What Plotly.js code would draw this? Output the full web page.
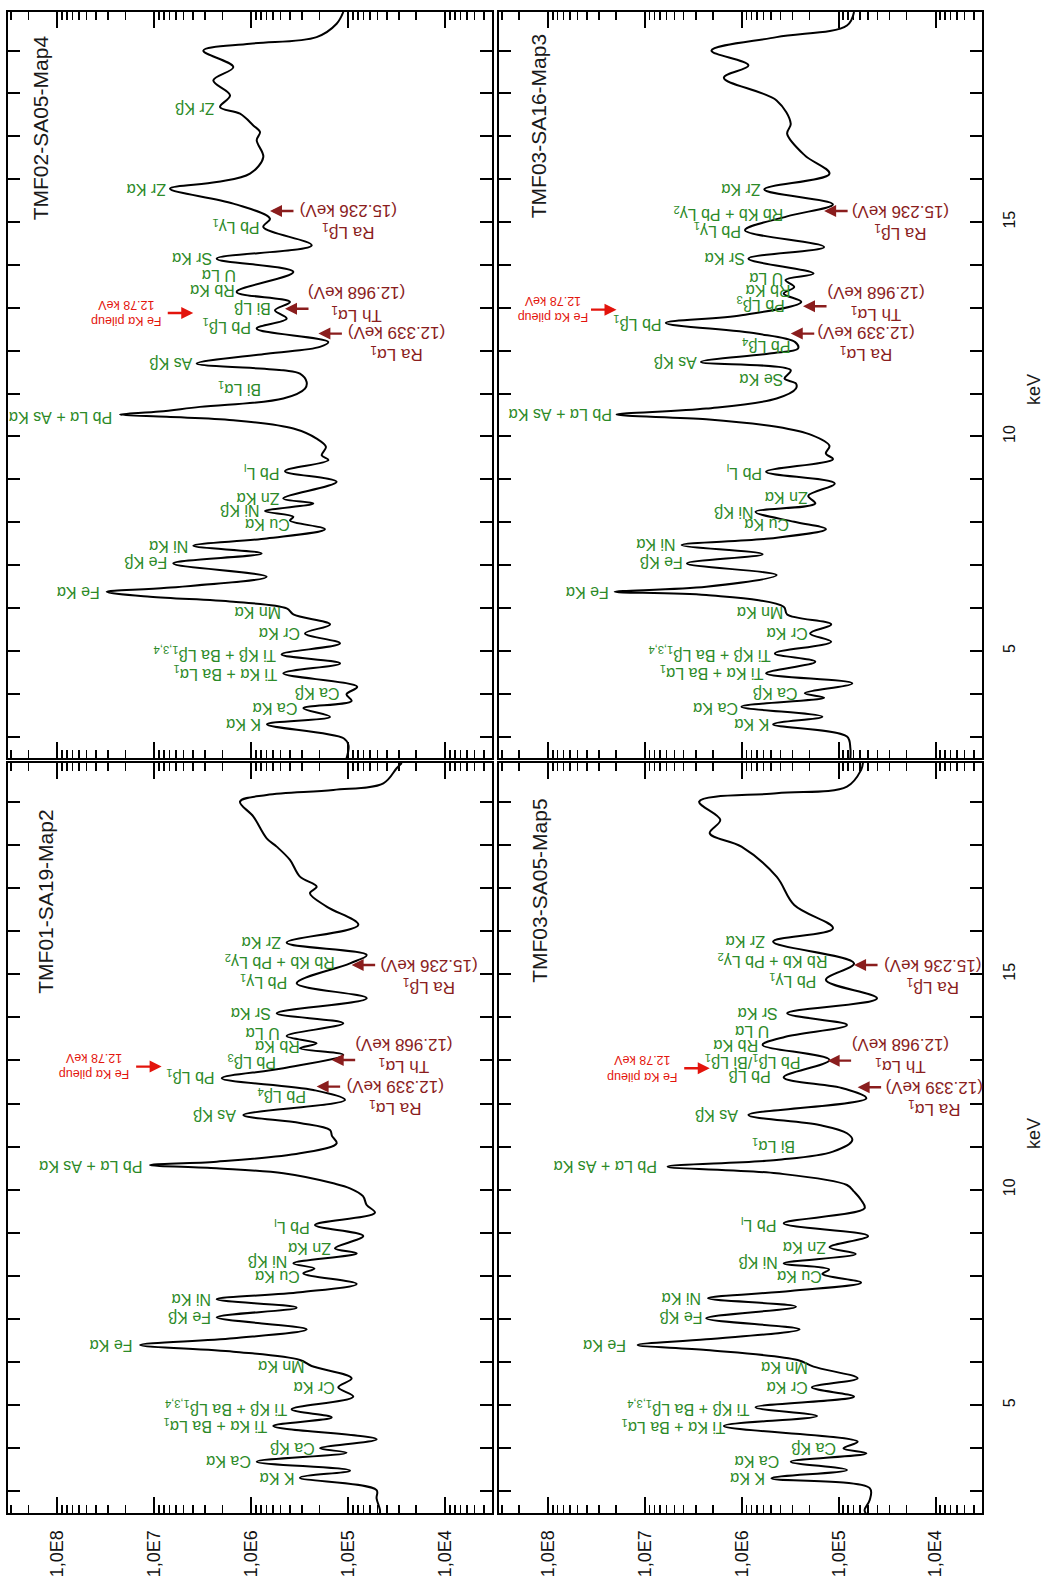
<!DOCTYPE html>
<html>
<head>
<meta charset="utf-8">
<script src="https://cdn.plot.ly/plotly-3.0.1.min.js"></script>
<style>
html,body{margin:0;padding:0;background:#fff;}
#chart{width:1048px;height:1584px;}
</style>
</head>
<body>
<div id="chart"></div>
<script>
// ---------------- DATA (energy in keV, counts as log10 values) ----------------
const panelNames = ['TMF01-SA19-Map2', 'TMF03-SA05-Map5', 'TMF02-SA05-Map4', 'TMF03-SA16-Map3'];

// TMF01-SA19-Map2
const energyTMF01 = [2.49,2.57,2.84,3.033,3.32,3.482,3.691,3.9,4.0,4.209,4.518,4.719,4.905,5.199,5.415,5.624,5.91,6.05,6.243,6.398,6.552,6.761,7.039,7.264,7.457,7.62,7.813,8.06,8.17,8.292,8.524,8.64,8.927,9.182,9.468,9.646,9.85,10.033,10.149,10.381,10.497,10.574,10.651,10.845,11.077,11.25,11.386,11.55,11.734,12.082,12.314,12.585,12.817,13.127,13.281,13.397,13.567,13.861,14.093,14.441,14.789,15.253,15.447,15.733,16.143,16.568,16.877,17.032,17.264,17.651,17.96,18.153,18.656,19.004,19.159,19.275,19.43,19.778,19.9];
const log10CountsTMF01 = [4.675,4.675,4.71,4.71,5.5,4.984,5.946,5.019,5.293,4.709,5.775,5.173,5.586,4.95,5.105,4.967,5.38,5.5,6.187,7.149,6.187,5.431,6.359,5.534,6.359,5.5,4.915,5.465,5.35,5.568,4.915,5.139,4.847,5.345,4.727,4.812,4.85,4.984,5.156,5.671,6.359,7.046,6.359,5.5,5.122,5.17,5.19,5.5,6.084,5.036,5.362,6.307,5.671,5.053,5.5,5.328,5.637,5.053,5.74,4.812,5.534,4.984,4.812,5.637,4.898,5.225,5.397,5.328,5.5,5.603,5.74,5.843,5.98,6.118,5.843,5.156,4.64,4.503,4.45];

// TMF03-SA05-Map5
const energyTMF03a = [2.49,2.57,2.8,3.072,3.304,3.497,3.691,3.884,4.0,4.155,4.518,4.75,4.951,5.199,5.415,5.624,5.895,6.05,6.282,6.398,6.529,6.761,7.016,7.287,7.48,7.65,7.844,8.045,8.15,8.292,8.509,8.664,8.927,9.22,9.569,9.762,9.955,10.11,10.381,10.535,10.69,10.883,11.154,11.31,11.5,11.734,12.121,12.35,12.608,13.01,13.359,13.55,13.823,14.093,14.441,14.867,15.253,15.756,16.065,16.607,17.264,17.96,18.27,18.579,19.004,19.198,19.352,19.739,19.9];
const log10CountsTMF03a = [4.72,4.733,4.68,4.678,5.696,4.915,5.496,4.715,4.951,4.805,6.187,5.224,5.86,4.842,5.278,4.805,5.26,5.424,6.369,7.078,6.369,5.405,6.369,5.442,6.351,5.5,4.769,5.169,5.1,5.569,4.824,5.096,4.696,5.569,4.733,4.769,4.842,4.915,5.642,6.769,5.642,5.06,4.86,4.915,5.2,5.933,4.715,4.95,5.569,5.096,5.787,5.55,4.915,5.533,4.605,5.133,4.842,5.678,5.06,5.46,5.642,6.005,6.333,6.224,6.442,5.642,4.915,4.769,4.75];

// TMF02-SA05-Map4
const energyTMF02 = [2.49,2.8,2.96,3.285,3.46,3.66,3.83,3.985,4.16,4.474,4.707,4.917,5.173,5.406,5.616,5.849,5.99,6.144,6.261,6.377,6.47,6.727,7.038,7.271,7.45,7.62,7.838,8.04,8.126,8.258,8.437,8.553,8.942,9.19,9.447,9.56,9.757,9.95,10.185,10.38,10.457,10.51,10.58,10.69,10.884,11.117,11.27,11.466,11.544,11.7,11.93,12.088,12.205,12.516,12.749,12.943,13.137,13.37,13.837,14.147,14.458,14.885,15.08,15.43,15.779,15.934,16.129,16.517,16.906,17.1,17.255,17.527,17.683,17.955,18.304,18.615,19.0,19.159,19.314,19.625,19.9];
const log10CountsTMF02 = [5.02,5.0,5.05,5.84,5.19,5.465,4.967,5.02,4.91,5.672,5.087,5.689,5.087,5.448,5.19,5.568,5.637,6.187,7.046,7.493,6.874,5.843,6.806,5.895,6.6,5.843,5.242,5.603,5.568,5.86,5.362,5.672,5.122,5.654,5.207,5.276,5.232,5.328,5.568,6.187,6.874,7.355,6.95,6.531,5.672,5.448,5.431,5.5,5.672,6.565,5.843,5.294,5.208,5.946,5.637,5.758,5.603,6.153,5.568,6.359,5.379,5.878,5.809,6.187,6.84,6.359,6.015,5.878,5.946,5.912,5.981,6.118,6.324,6.221,6.393,6.187,6.496,6.015,5.328,5.122,5.053];

// TMF03-SA16-Map3
const energyTMF03b = [2.49,2.73,3.0,3.285,3.464,3.697,3.907,4.008,4.241,4.474,4.746,4.94,5.212,5.406,5.616,5.849,6.028,6.3,6.377,6.494,6.766,7.038,7.255,7.465,7.62,7.838,8.009,8.242,8.437,8.615,8.903,9.175,9.47,9.602,9.781,10.03,10.224,10.402,10.51,10.65,10.884,11.117,11.234,11.35,11.544,11.739,11.933,12.05,12.2,12.4,12.648,12.826,13.137,13.331,13.487,13.65,13.798,14.147,14.419,14.808,15.134,15.414,15.763,16.129,16.556,17.061,17.294,17.838,18.366,18.654,19.0,19.314,19.586,19.9];
const log10CountsTMF03b = [4.88,4.88,4.915,5.678,5.169,6.006,5.151,5.351,4.86,5.751,5.242,5.66,5.078,5.296,5.078,5.533,5.569,6.369,7.315,6.369,5.642,6.569,5.787,6.624,5.715,5.133,5.46,5.86,5.242,5.315,5.042,5.751,5.06,5.133,5.096,5.278,5.642,6.369,7.296,6.369,5.642,5.442,5.442,5.56,5.496,6.424,5.715,5.42,5.45,5.85,6.787,6.005,5.387,5.569,5.46,5.55,5.26,5.933,5.151,5.969,5.533,5.06,5.769,5.096,5.351,5.533,5.496,5.642,6.187,5.933,6.315,5.642,4.915,4.842];

// Axis tick labels
const countTickVals = [1e4, 1e5, 1e6, 1e7, 1e8];
const countTickText = ['1,0E4', '1,0E5', '1,0E6', '1,0E7', '1,0E8'];
const keVTickVals = [5, 10, 15];
const keVTickText = ['5', '10', '15'];
const keVMinorTickVals = [3,4,6,7,8,9,11,12,13,14,16,17,18,19];

// Peak labels (text, energy in keV, log10 counts of the label's end next to the peak)
const labelsTMF01 = ['K Kα','Ca Kα','Ca Kβ','Ti Kα + Ba Lα<sub>1</sub>','Ti Kβ + Ba Lβ<sub>1,3,4</sub>','Cr Kα','Mn Kα','Fe Kα','Fe Kβ','Ni Kα','Cu Kα','Ni Kβ','Zn Kα','Pb L<sub>l</sub>','Pb Lα + As Kα','As Kβ','Pb Lβ<sub>4</sub>','Pb Lβ<sub>1</sub>','Pb Lβ<sub>3</sub>','Rb Kα','U Lα','Sr Kα','Pb Lγ<sub>1</sub>','Rb Kb + Pb Lγ<sub>2</sub>','Zr Kα'];
const labelKeVTMF01 = [3.304,3.691,4.0,4.518,4.928,5.415,5.895,6.374,7.04,7.457,8.0,8.33,8.64,9.159,10.551,11.734,12.198,12.624,12.972,13.32,13.63,14.093,14.828,15.292,15.733];
const labelLogTMF01 = [5.517,5.964,5.31,5.792,5.586,5.104,5.414,7.183,6.376,6.376,5.465,5.586,5.139,5.362,7.08,6.118,5.397,6.342,5.706,5.465,5.671,5.757,5.586,5.104,5.654];

const labelsTMF03a = ['K Kα','Ca Kα','Ca Kβ','Ti Kα + Ba Lα<sub>1</sub>','Ti Kβ + Ba Lβ<sub>1,3,4</sub>','Cr Kα','Mn Kα','Fe Kα','Fe Kβ','Ni Kα','Cu Kα','Ni Kβ','Zn Kα','Pb L<sub>l</sub>','Pb Lα + As Kα','Bi Lα<sub>1</sub>','As Kβ','Pb Lβ','Pb Lβ<sub>1</sub>/Bi Lβ<sub>1</sub>','Rb Kα','U Lα','Sr Kα','Pb Lγ<sub>1</sub>','Rb Kb + Pb Lγ<sub>2</sub>','Zr Kα'];
const labelKeVTMF03a = [3.304,3.691,4.0,4.503,4.928,5.415,5.879,6.374,7.04,7.48,7.983,8.308,8.664,9.205,10.551,11.038,11.734,12.624,12.972,13.359,13.668,14.093,14.867,15.331,15.756];
const labelLogTMF03a = [5.715,5.569,4.987,6.133,5.878,5.278,5.278,7.151,6.369,6.387,5.133,5.587,5.096,5.605,6.842,5.405,6.005,5.66,5.351,5.787,5.678,5.587,5.187,5.078,5.715];

const labelsTMF02 = ['K Kα','Ca Kα','Ca Kβ','Ti Kα + Ba Lα<sub>1</sub>','Ti Kβ + Ba Lβ<sub>1,3,4</sub>','Cr Kα','Mn Kα','Fe Kα','Fe Kβ','Ni Kα','Cu Kα','Ni Kβ','Zn Kα','Pb L<sub>l</sub>','Pb Lα + As Kα','Bi Lα<sub>1</sub>','As Kβ','Pb Lβ<sub>1</sub>','Bi Lβ','Rb Kα','U Lα','Sr Kα','Pb Lγ<sub>1</sub>','Zr Kα','Zr Kβ'];
const labelKeVTMF02 = [3.285,3.658,4.008,4.474,4.917,5.406,5.896,6.377,7.061,7.45,7.95,8.27,8.553,9.175,10.457,11.117,11.70,12.57,12.98,13.409,13.759,14.147,14.885,15.756,17.644];
const labelLogTMF02 = [5.86,5.482,5.053,5.689,5.706,5.458,5.654,7.527,6.823,6.606,5.568,5.878,5.672,5.672,7.39,5.86,6.565,5.964,5.758,6.135,6.118,6.359,5.878,6.84,6.342];

const labelsTMF03b = ['K Kα','Ca Kα','Ca Kβ','Ti Kα + Ba Lα<sub>1</sub>','Ti Kβ + Ba Lβ<sub>1,3,4</sub>','Cr Kα','Mn Kα','Fe Kα','Fe Kβ','Ni Kα','Cu Kα','Ni Kβ','Zn Kα','Pb L<sub>l</sub>','Pb Lα + As Kα','Se Kα','As Kβ','Pb Lβ<sub>4</sub>','Pb Lβ<sub>1</sub>','Pb Lβ<sub>3</sub>','Rb Kα','U Lα','Sr Kα','Pb Lγ<sub>1</sub>','Rb Kb + Pb Lγ<sub>2</sub>','Zr Kα'];
const labelKeVTMF03b = [3.285,3.658,4.008,4.49,4.917,5.406,5.896,6.377,7.061,7.465,7.947,8.242,8.592,9.175,10.51,11.311,11.739,12.104,12.648,13.08,13.40,13.70,14.147,14.808,15.196,15.756];
const labelLogTMF03b = [5.678,6.005,5.387,5.733,5.66,5.278,5.533,7.333,6.569,6.642,5.478,5.842,5.278,5.751,7.296,5.533,6.424,5.46,6.787,5.515,5.46,5.533,5.933,5.969,5.533,5.769];

// Reference lines marked with arrows (Ra Lα1, Th Lα1, Ra Lβ1) and the Fe Kα pile-up
const refLineTexts = ['Ra Lα<sub>1</sub><br>(12.339 keV)', 'Th Lα<sub>1</sub><br>(12.968 keV)', 'Ra Lβ<sub>1</sub><br>(15.236 keV)'];
const pileupText = 'Fe Kα pileup<br>12.78 keV';
// arrow tip energy / log10 counts, text block energy / log10 counts, per panel
const refArrowKeV = [[12.392,13.01,15.215],[12.376,12.995,15.215],[12.399,12.98,15.258],[12.399,13.036,15.258]];
const refArrowLog = [[5.328,5.173,4.967],[4.805,5.115,4.842],[5.31,5.654,5.809],[5.496,5.369,5.151]];
const refTextKeV  = [[12.136,13.11,14.96],[12.121,13.111,14.959],[12.166,13.083,15.018],[12.166,13.098,15.002]];
const refTextLog  = [[5.036,4.95,4.692],[4.533,4.878,4.551],[5.019,5.431,5.52],[5.242,5.133,4.878]];
const pileupArrowKeV = [12.856, 12.817, 12.88, 12.958];
const pileupArrowLog = [6.926, 6.333, 6.6, 7.296];
const pileupTextLog  = [7.235, 6.642, 6.909, 7.569];

// ---------------- PLOT ----------------
const FONT = 'Liberation Sans, Arial, sans-serif';
const GREEN = '#2c8a28';
const DARKRED = '#8a1d1d';
const RED = '#e3140c';
const W = 1048, H = 1584;

const panels = [
  {title: panelNames[0], keV: energyTMF01, logc: log10CountsTMF01, lab: labelsTMF01, labK: labelKeVTMF01, labL: labelLogTMF01, xa: 'x', ya: 'y', tx: 0.078, ty: 0.94},
  {title: panelNames[1], keV: energyTMF03a, logc: log10CountsTMF03a, lab: labelsTMF03a, labK: labelKeVTMF03a, labL: labelLogTMF03a, xa: 'x2', ya: 'y2', tx: 0.085, ty: 0.955},
  {title: panelNames[2], keV: energyTMF02, logc: log10CountsTMF02, lab: labelsTMF02, labK: labelKeVTMF02, labL: labelLogTMF02, xa: 'x3', ya: 'y3', tx: 0.066, ty: 0.972},
  {title: panelNames[3], keV: energyTMF03b, logc: log10CountsTMF03b, lab: labelsTMF03b, labK: labelKeVTMF03b, labL: labelLogTMF03b, xa: 'x4', ya: 'y4', tx: 0.081, ty: 0.973}
];

const traces = panels.map(p => ({
  type: 'scatter', mode: 'lines',
  x: p.logc.map(v => Math.pow(10, v)), y: p.keV,
  xaxis: p.xa, yaxis: p.ya,
  line: {color: '#000', width: 2, shape: 'spline', smoothing: 1},
  hoverinfo: 'skip', showlegend: false
}));

const minorVals = [];
for (let e = 3; e <= 8; e++) for (let m = 2; m <= 9; m++) minorVals.push(m * Math.pow(10, e));

function countsAxis(domain, anchor, showLabels) {
  return {
    type: 'log', domain: domain, anchor: anchor, range: [8.51, 3.52],
    showline: true, linecolor: '#000', linewidth: 2, mirror: 'allticks',
    ticks: 'inside', ticklen: 16, tickwidth: 2, tickcolor: '#000',
    tickmode: 'array', tickvals: countTickVals, ticktext: countTickText,
    showticklabels: showLabels, tickangle: -90, ticklabelstandoff: 8,
    tickfont: {family: FONT, size: 18, color: '#111'},
    minor: {tickmode: 'array', tickvals: minorVals, ticks: 'inside', ticklen: 8, tickwidth: 1.5, tickcolor: '#000', showgrid: false},
    showgrid: false, zeroline: false, fixedrange: true
  };
}
function keVAxis(domain, anchor, showLabels) {
  return {
    domain: domain, anchor: anchor, range: [2.5, 19.9], side: showLabels ? 'right' : 'left',
    showline: true, linecolor: '#000', linewidth: 2, mirror: 'allticks',
    ticks: 'inside', ticklen: 12, tickwidth: 2, tickcolor: '#000',
    tickmode: 'array', tickvals: keVTickVals, ticktext: keVTickText,
    minor: {tickmode: 'array', tickvals: keVMinorTickVals, ticks: 'inside', ticklen: 12, tickwidth: 2, tickcolor: '#000', showgrid: false},
    showticklabels: showLabels, tickangle: -90, ticklabelstandoff: 12,
    tickfont: {family: FONT, size: 16, color: '#111'},
    showgrid: false, zeroline: false, fixedrange: true
  };
}

const colL = [8 / W, 492 / W], colR = [499 / W, 982 / W];
const rowB = [1 - 1513 / H, 1 - 763 / H], rowT = [1 - 758 / H, 1 - 12 / H];

const annotations = [];
panels.forEach((p, i) => {
  // title
  annotations.push({xref: p.xa + ' domain', yref: p.ya + ' domain', x: p.tx, y: p.ty, xanchor: 'center', yanchor: 'top',
    text: p.title, showarrow: false, textangle: -90, font: {family: FONT, size: 21, color: '#1a1a1a'}});
  // peak labels
  p.lab.forEach((t, j) => {
    annotations.push({xref: p.xa, yref: p.ya, x: p.labL[j], y: p.labK[j], text: t, showarrow: false,
      textangle: 180, xanchor: 'right', yanchor: 'middle', xshift: -2,
      font: {family: FONT, size: 16, color: GREEN}});
  });
  // reference-line arrows and texts
  refLineTexts.forEach((t, j) => {
    annotations.push({xref: p.xa, yref: p.ya, x: refArrowLog[i][j], y: refArrowKeV[i][j], text: '',
      showarrow: true, ax: 25, ay: 0, axref: 'pixel', ayref: 'pixel', arrowhead: 2, arrowsize: 1,
      arrowwidth: 2.4, arrowcolor: DARKRED, standoff: 0});
    annotations.push({xref: p.xa, yref: p.ya, x: refTextLog[i][j], y: refTextKeV[i][j], text: t, showarrow: false,
      textangle: 180, xanchor: 'left', yanchor: 'middle', align: 'center',
      font: {family: FONT, size: 17, color: DARKRED}});
  });
  // pile-up
  annotations.push({xref: p.xa, yref: p.ya, x: pileupArrowLog[i], y: pileupArrowKeV[i], text: '',
    showarrow: true, ax: -27, ay: 0, axref: 'pixel', ayref: 'pixel', arrowhead: 2, arrowsize: 1,
    arrowwidth: 2.4, arrowcolor: RED, standoff: 0});
  annotations.push({xref: p.xa, yref: p.ya, x: pileupTextLog[i], y: pileupArrowKeV[i], text: pileupText, showarrow: false,
    textangle: 180, xanchor: 'right', yanchor: 'middle', align: 'center',
    font: {family: FONT, size: 12.5, color: RED}});
});
// keV axis titles
annotations.push({xref: 'paper', yref: 'paper', x: 1034 / W, y: 1 - 1134 / H, text: 'keV', showarrow: false,
  textangle: -90, xanchor: 'center', yanchor: 'middle', font: {family: FONT, size: 18, color: '#1a1a1a'}});
annotations.push({xref: 'paper', yref: 'paper', x: 1034 / W, y: 1 - 390 / H, text: 'keV', showarrow: false,
  textangle: -90, xanchor: 'center', yanchor: 'middle', font: {family: FONT, size: 18, color: '#1a1a1a'}});

const layout = {
  width: W, height: H,
  margin: {l: 0, r: 0, t: 0, b: 0},
  paper_bgcolor: '#fff', plot_bgcolor: '#fff',
  showlegend: false,
  xaxis: countsAxis(colL, 'y', true),
  yaxis: keVAxis(rowB, 'x', false),
  xaxis2: countsAxis(colR, 'y2', true),
  yaxis2: keVAxis(rowB, 'x2', true),
  xaxis3: countsAxis(colL, 'y3', false),
  yaxis3: keVAxis(rowT, 'x3', false),
  xaxis4: countsAxis(colR, 'y4', false),
  yaxis4: keVAxis(rowT, 'x4', true),
  annotations: annotations,
  font: {family: FONT}
};

Plotly.newPlot('chart', traces, layout, {staticPlot: true, displayModeBar: false});
</script>
</body>
</html>
